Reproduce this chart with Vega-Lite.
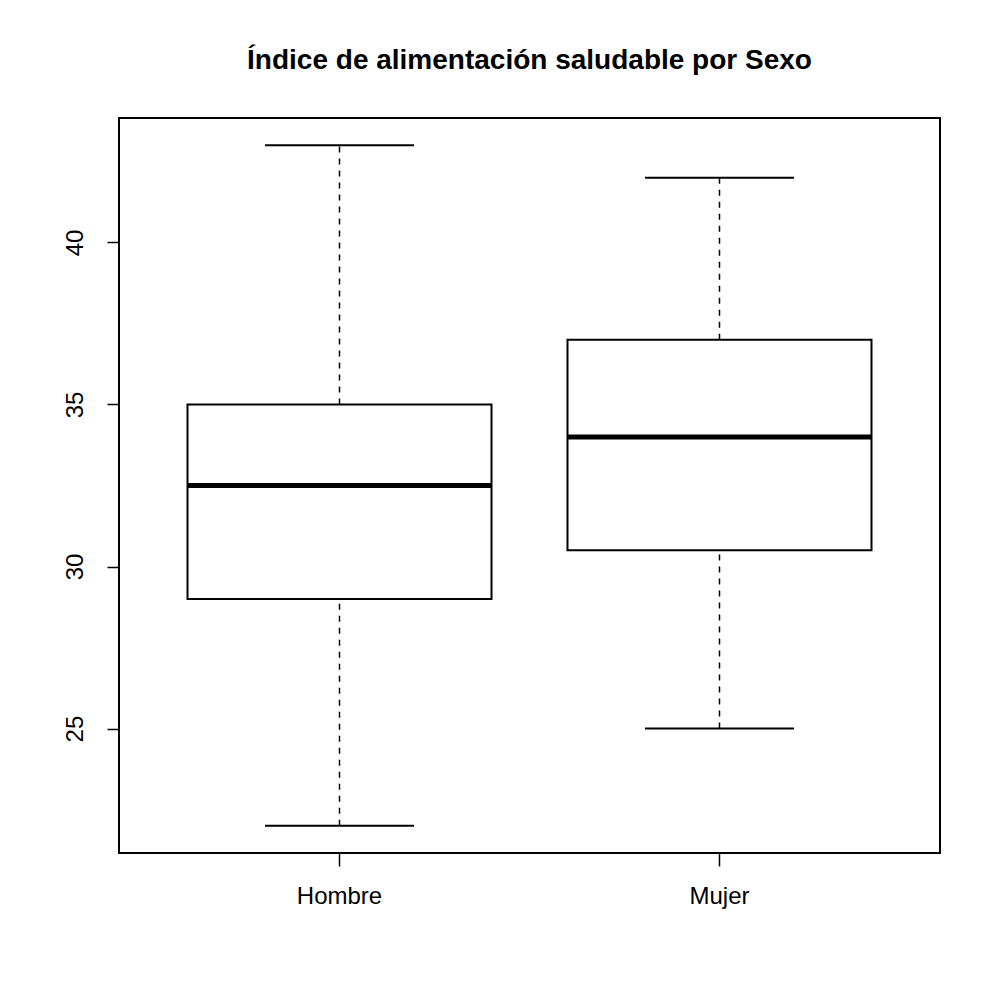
{
  "$schema": "https://vega.github.io/schema/vega-lite/v6.json",
  "description": "Boxplot of the healthy eating index by sex.",
  "autosize": {"type": "none"},
  "padding": {"left": 119, "top": 118, "right": 60, "bottom": 147},
  "width": 821,
  "height": 735,
  "title": {
    "text": "Índice de alimentación saludable por Sexo",
    "font": "Liberation Sans",
    "fontSize": 28,
    "fontWeight": "bold",
    "color": "black",
    "anchor": "middle",
    "offset": 43
  },
  "data": {
    "values": [
      {"Sexo": "Hombre", "min": 22, "q1": 29, "median": 32.5, "q3": 35, "max": 43},
      {"Sexo": "Mujer", "min": 25, "q1": 30.5, "median": 34, "q3": 37, "max": 42}
    ]
  },
  "encoding": {
    "x": {
      "field": "Sexo",
      "type": "nominal",
      "scale": {"paddingInner": 0, "paddingOuter": 0.0803},
      "axis": {
        "title": null,
        "labelAngle": 0,
        "domain": false,
        "ticks": true,
        "tickSize": 13,
        "tickColor": "black",
        "tickWidth": 1.5,
        "labelPadding": 18,
        "labelFontSize": 24,
        "labelFont": "Liberation Sans",
        "labelColor": "black"
      }
    }
  },
  "layer": [
    {
      "mark": {"type": "rule", "strokeDash": [6, 6], "strokeWidth": 1.5, "color": "black"},
      "encoding": {
        "y": {
          "field": "q3",
          "type": "quantitative",
          "scale": {"domain": [21.16, 43.84], "nice": false, "zero": false},
          "axis": {
            "title": null,
            "values": [25, 30, 35, 40],
            "labelAngle": -90,
            "labelAlign": "center",
            "labelBaseline": "bottom",
            "labelPadding": 20,
            "tickSize": 12,
            "tickWidth": 1.5,
            "tickColor": "black",
            "domain": false,
            "grid": false,
            "labelFontSize": 24,
            "labelFont": "Liberation Sans",
            "labelColor": "black"
          }
        },
        "y2": {"field": "max"}
      }
    },
    {
      "mark": {"type": "rule", "strokeDash": [6, 6], "strokeWidth": 1.5, "color": "black"},
      "encoding": {
        "y": {"field": "min", "type": "quantitative"},
        "y2": {"field": "q1"}
      }
    },
    {
      "mark": {"type": "bar", "size": 304, "fill": "white", "stroke": "black", "strokeWidth": 2},
      "encoding": {
        "y": {"field": "q1", "type": "quantitative"},
        "y2": {"field": "q3"}
      }
    },
    {
      "mark": {"type": "tick", "size": 304, "thickness": 5, "color": "black", "opacity": 1},
      "encoding": {"y": {"field": "median", "type": "quantitative"}}
    },
    {
      "mark": {"type": "tick", "size": 149, "thickness": 2, "color": "black", "opacity": 1},
      "encoding": {"y": {"field": "max", "type": "quantitative"}}
    },
    {
      "mark": {"type": "tick", "size": 149, "thickness": 2, "color": "black", "opacity": 1},
      "encoding": {"y": {"field": "min", "type": "quantitative"}}
    }
  ],
  "config": {
    "view": {"stroke": "black", "strokeWidth": 2, "fill": "white"},
    "background": "white"
  }
}
